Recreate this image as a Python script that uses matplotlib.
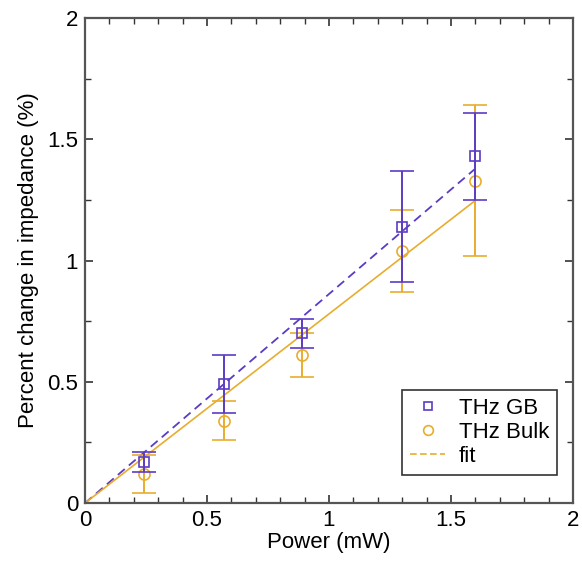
import matplotlib
matplotlib.use("Agg")
import matplotlib.pyplot as plt
import numpy as np
from matplotlib.ticker import MultipleLocator
from matplotlib.lines import Line2D

plt.rcParams['font.family'] = ['Liberation Sans', 'DejaVu Sans']

power = [0.24, 0.57, 0.89, 1.30, 1.60]
gb_values = [0.17, 0.49, 0.70, 1.14, 1.43]
gb_err = [0.04, 0.12, 0.06, 0.23, 0.18]
bulk_values = [0.12, 0.34, 0.61, 1.04, 1.33]
bulk_err = [0.08, 0.08, 0.09, 0.17, 0.31]
fit_x = [0.0, 1.6]
gb_fit_slope = 0.862
bulk_fit_slope = 0.78

purple = '#5b3cc4'
orange = '#e8ad2e'

fig = plt.figure(figsize=(5.82, 5.64), dpi=100)
ax = fig.add_axes([0.146, 0.108, 0.8385, 0.860])

fx = np.array(fit_x)
ax.plot(fx, gb_fit_slope * fx, color=purple, lw=1.3, ls=(0, (5, 3)), zorder=2)
ax.plot(fx, bulk_fit_slope * fx, color=orange, lw=1.2, ls='-', zorder=2)

ax.errorbar(power, bulk_values, yerr=bulk_err, fmt='o', mfc='none', mec=orange,
            ms=8, mew=1.2, ecolor=orange, elinewidth=1.4, capsize=8.5, capthick=1.4, zorder=3)
ax.errorbar(power, gb_values, yerr=gb_err, fmt='s', mfc='none', mec=purple,
            ms=7, mew=1.2, ecolor=purple, elinewidth=1.4, capsize=8.5, capthick=1.4, zorder=4)

ax.set_xlim(0, 2)
ax.set_ylim(0, 2)
ax.xaxis.set_major_locator(MultipleLocator(0.5))
ax.xaxis.set_minor_locator(MultipleLocator(0.1))
ax.yaxis.set_major_locator(MultipleLocator(0.5))
ax.yaxis.set_minor_locator(MultipleLocator(0.25))
ax.xaxis.set_major_formatter(matplotlib.ticker.FuncFormatter(lambda v, p: f'{v:g}'))
ax.yaxis.set_major_formatter(matplotlib.ticker.FuncFormatter(lambda v, p: f'{v:g}'))
ax.tick_params(which='both', direction='in', top=True, right=True, color='#333333', labelsize=16)
ax.tick_params(which='major', length=6, width=1.2, pad=5)
ax.tick_params(which='minor', length=4, width=1.0)
for s in ax.spines.values():
    s.set_color('#555555')
    s.set_linewidth(1.6)

ax.set_xlabel('Power (mW)', fontsize=16, labelpad=1)
ax.set_ylabel('Percent change in impedance (%)', fontsize=16, labelpad=6)

handles = [
    Line2D([], [], ls='none', marker='s', mfc='none', mec=purple, ms=6, mew=1.2),
    Line2D([], [], ls='none', marker='o', mfc='none', mec=orange, ms=7, mew=1.2),
    Line2D([], [], color=orange, lw=1.2, ls=(0, (4, 2))),
]
leg = ax.legend(handles, ['THz GB', 'THz Bulk', 'fit'], loc='lower right',
                bbox_to_anchor=(0.967, 0.058), borderaxespad=0, fontsize=16,
                fancybox=False, framealpha=1, edgecolor='#333333', handlelength=1.6,
                labelspacing=0.15, borderpad=0.35, handletextpad=0.6)
leg.get_frame().set_linewidth(1.2)

fig.savefig('out.png', dpi=100)
